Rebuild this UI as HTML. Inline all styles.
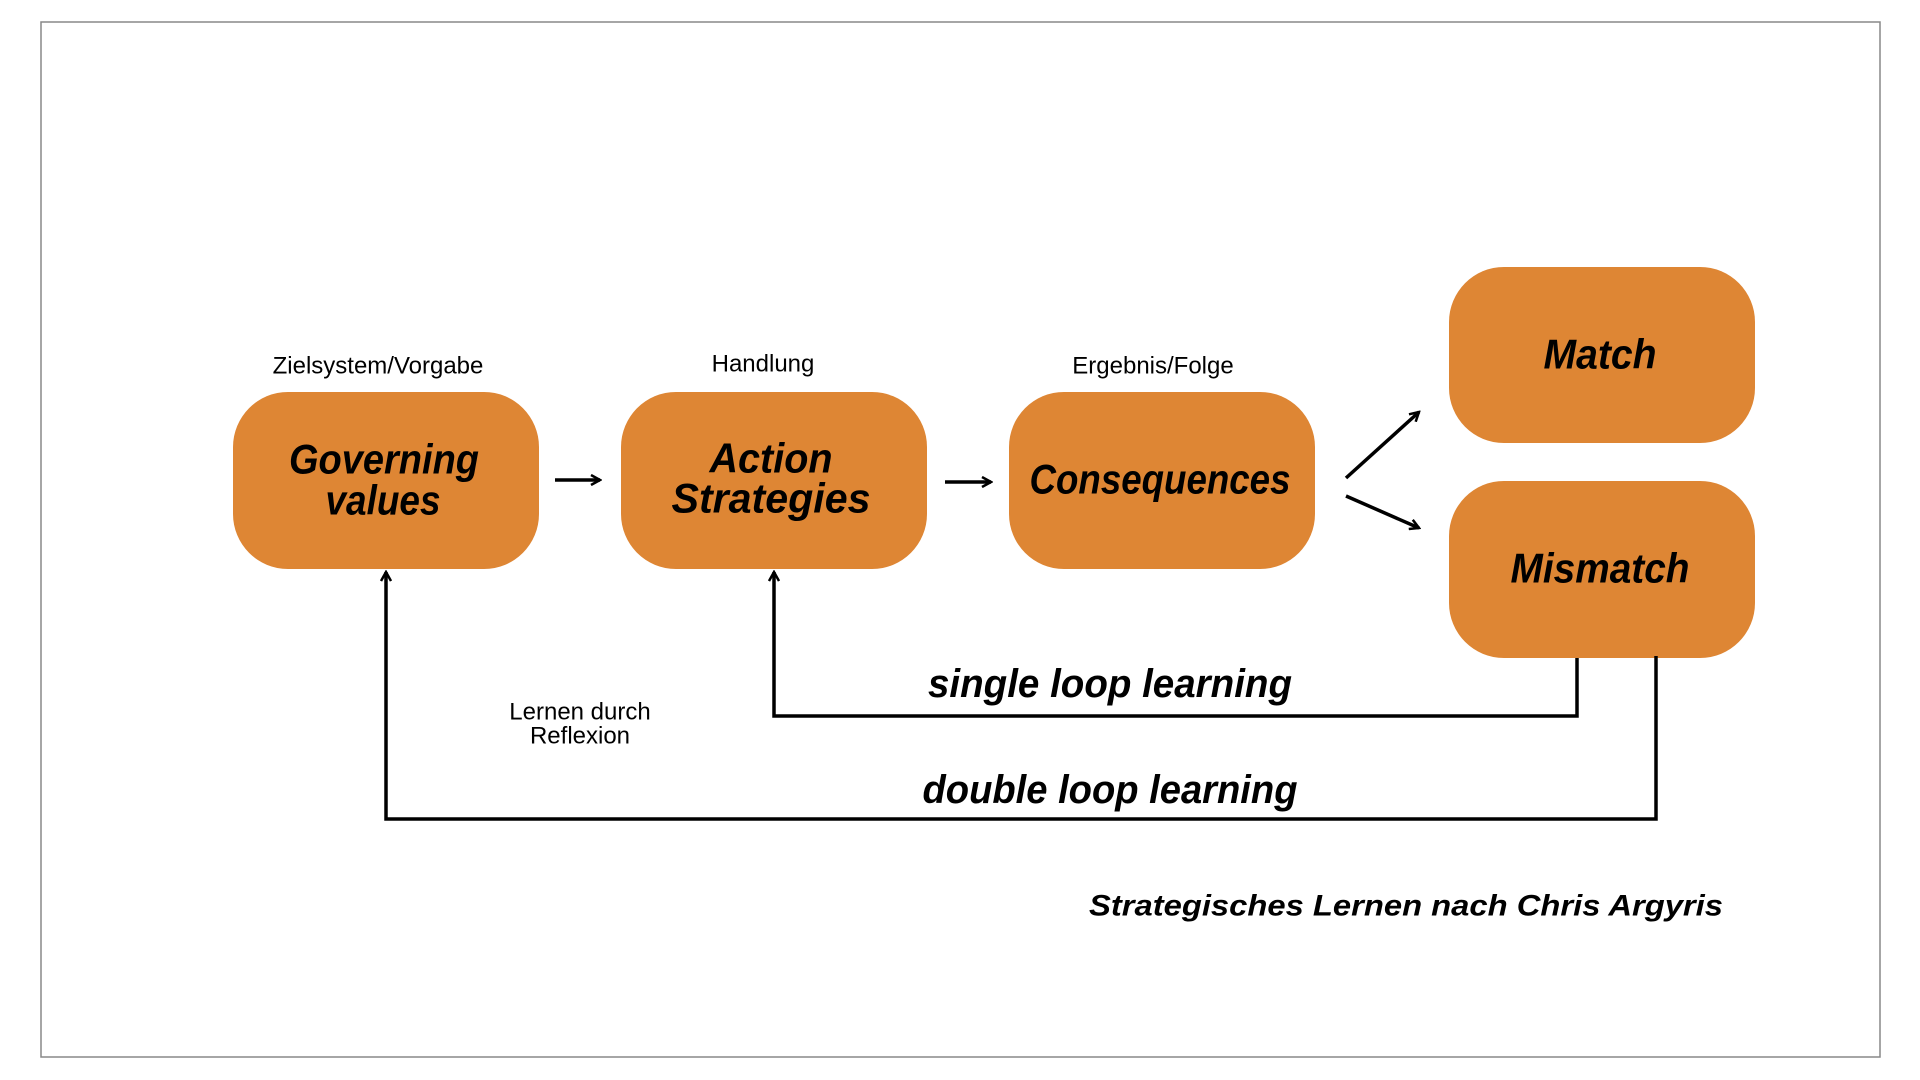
<!DOCTYPE html>
<html><head><meta charset="utf-8"><style>
html,body{margin:0;padding:0;background:#fff;width:1920px;height:1080px;overflow:hidden}
</style></head><body>
<svg width="1920" height="1080" xmlns="http://www.w3.org/2000/svg">
<defs>
<marker id="ah" viewBox="0 0 12 12" refX="10" refY="6" markerWidth="12" markerHeight="12" markerUnits="userSpaceOnUse" orient="auto">
<path d="M1,1 L10,6 L1,11" fill="none" stroke="#000" stroke-width="2.5"/>
</marker>
</defs>
<rect x="41" y="22" width="1839" height="1035" fill="#fff" stroke="#888" stroke-width="1.5"/>
<g fill="#de8634">
<rect x="233" y="392" width="306" height="177" rx="55"/>
<rect x="621" y="392" width="306" height="177" rx="55"/>
<rect x="1009" y="392" width="306" height="177" rx="55"/>
<rect x="1449" y="267" width="306" height="176" rx="55"/>
<rect x="1449" y="481" width="306" height="177" rx="55"/>
</g>
<g font-family="Liberation Sans, sans-serif" font-size="24" text-anchor="middle" dominant-baseline="central" fill="#000">
<text x="378" y="366">Zielsystem/Vorgabe</text>
<text x="763" y="364">Handlung</text>
<text x="1153" y="366">Ergebnis/Folge</text>
<text x="580" y="712">Lernen durch</text>
<text x="580" y="736">Reflexion</text>
</g>
<g font-family="Liberation Sans, sans-serif" font-weight="bold" font-style="italic" text-anchor="middle" dominant-baseline="central" fill="#000">
<text x="384" y="459" font-size="42" textLength="190" lengthAdjust="spacingAndGlyphs">Governing</text>
<text x="383" y="500" font-size="42" textLength="115" lengthAdjust="spacingAndGlyphs">values</text>
<text x="771" y="458" font-size="42" textLength="123" lengthAdjust="spacingAndGlyphs">Action</text>
<text x="771" y="498" font-size="42" textLength="199" lengthAdjust="spacingAndGlyphs">Strategies</text>
<text x="1160" y="479" font-size="42" textLength="261" lengthAdjust="spacingAndGlyphs">Consequences</text>
<text x="1600" y="354" font-size="42" textLength="113" lengthAdjust="spacingAndGlyphs">Match</text>
<text x="1600" y="568" font-size="42" textLength="179" lengthAdjust="spacingAndGlyphs">Mismatch</text>
<text x="1110" y="684" font-size="40" textLength="364" lengthAdjust="spacingAndGlyphs">single loop learning</text>
<text x="1110" y="790" font-size="40" textLength="375" lengthAdjust="spacingAndGlyphs">double loop learning</text>
<text x="1406" y="906" font-size="30" textLength="634" lengthAdjust="spacingAndGlyphs">Strategisches Lernen nach Chris Argyris</text>
</g>
<g stroke="#000" stroke-width="3.5" fill="none">
<line x1="555" y1="480" x2="600" y2="480" marker-end="url(#ah)"/>
<line x1="945" y1="482" x2="991" y2="482" marker-end="url(#ah)"/>
<line x1="1346" y1="478" x2="1419" y2="412" marker-end="url(#ah)"/>
<line x1="1346" y1="496" x2="1419" y2="528" marker-end="url(#ah)"/>
<polyline points="1577,658 1577,716 774,716 774,572" marker-end="url(#ah)"/>
<polyline points="1656,656 1656,819 386,819 386,572" marker-end="url(#ah)"/>
</g>
</svg>
</body></html>
